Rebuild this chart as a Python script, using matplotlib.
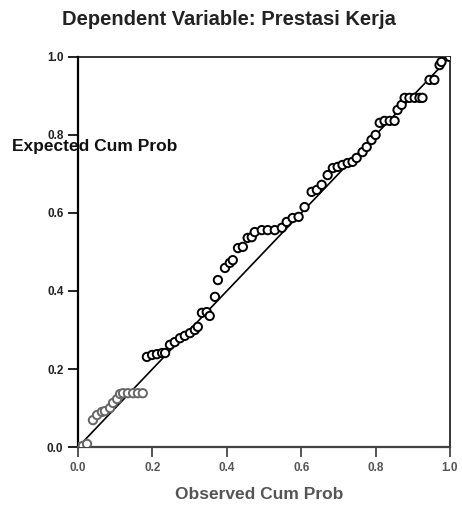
import matplotlib.pyplot as plt

# observed vs expected cumulative probabilities
observed = [0.005, 0.013, 0.024, 0.040, 0.051, 0.064, 0.072, 0.086, 0.094, 0.105,
            0.113, 0.121, 0.134, 0.148, 0.161, 0.174, 0.185, 0.199, 0.212, 0.226,
            0.234, 0.247, 0.260, 0.274, 0.287, 0.301, 0.314, 0.322, 0.333, 0.346,
            0.354, 0.368, 0.376, 0.395, 0.408, 0.416, 0.430, 0.443, 0.456, 0.467,
            0.475, 0.494, 0.510, 0.529, 0.548, 0.561, 0.577, 0.593, 0.609, 0.628,
            0.642, 0.655, 0.671, 0.685, 0.698, 0.711, 0.725, 0.738, 0.749, 0.765,
            0.776, 0.789, 0.800, 0.811, 0.824, 0.838, 0.851, 0.859, 0.870, 0.878,
            0.891, 0.905, 0.918, 0.926, 0.945, 0.958, 0.972, 0.977, 0.999]
expected = [0.000, 0.003, 0.008, 0.069, 0.082, 0.090, 0.092, 0.100, 0.113, 0.123,
            0.136, 0.138, 0.138, 0.138, 0.138, 0.138, 0.231, 0.236, 0.238, 0.241,
            0.241, 0.262, 0.269, 0.279, 0.285, 0.292, 0.300, 0.308, 0.344, 0.346,
            0.336, 0.385, 0.428, 0.459, 0.472, 0.479, 0.510, 0.513, 0.536, 0.538,
            0.551, 0.556, 0.556, 0.556, 0.562, 0.577, 0.587, 0.590, 0.615, 0.654,
            0.659, 0.672, 0.697, 0.715, 0.718, 0.723, 0.728, 0.731, 0.741, 0.756,
            0.769, 0.787, 0.800, 0.831, 0.836, 0.836, 0.836, 0.864, 0.877, 0.895,
            0.895, 0.895, 0.895, 0.895, 0.941, 0.941, 0.979, 0.987, 1.000]
ticks = [0.0, 0.2, 0.4, 0.6, 0.8, 1.0]
tick_labels = ['0.0', '0.2', '0.4', '0.6', '0.8', '1.0']

plt.rcParams['font.family'] = ['Liberation Sans', 'DejaVu Sans']

fig = plt.figure(figsize=(4.62, 5.08), dpi=100)
ax = fig.add_axes([0.169, 0.120, 0.805, 0.768])

ax.plot([0, 1], [0, 1], color='black', lw=1.2, zorder=2)

# the scan is faded in the lower-left corner
colors = ['#666666' if (x < 0.19 and y < 0.2) else 'black'
          for x, y in zip(observed, expected)]
ax.scatter(observed, expected, s=36, facecolors='white', edgecolors=colors,
           linewidths=1.4, zorder=3)

ax.set_xlim(0, 1)
ax.set_ylim(0, 1)
ax.set_xticks(ticks)
ax.set_xticklabels(tick_labels)
ax.set_yticks(ticks)
ax.set_yticklabels(tick_labels)
ax.tick_params(direction='out', length=7, width=1.4, labelsize=8.5,
               colors='#222222')
for lab in ax.get_xticklabels() + ax.get_yticklabels():
    lab.set_fontweight('bold')
ax.tick_params(axis='x', colors='#555555')

for side in ['left', 'bottom']:
    ax.spines[side].set_linewidth(1.6)
ax.spines['bottom'].set_color('#444444')
for side in ['top', 'right']:
    ax.spines[side].set_linewidth(1.1)

fig.text(0.495, 0.962, 'Dependent Variable: Prestasi Kerja', ha='center',
         va='center', fontsize=14.5, fontweight='bold', color='#222222')
fig.text(0.026, 0.712, 'Expected Cum Prob', ha='left', va='center',
         fontsize=12.5, fontweight='bold', color='#111111')
fig.text(0.560, 0.026, 'Observed Cum Prob', ha='center', va='center',
         fontsize=12.5, fontweight='bold', color='#555555')

fig.savefig('out.png', dpi=100)
